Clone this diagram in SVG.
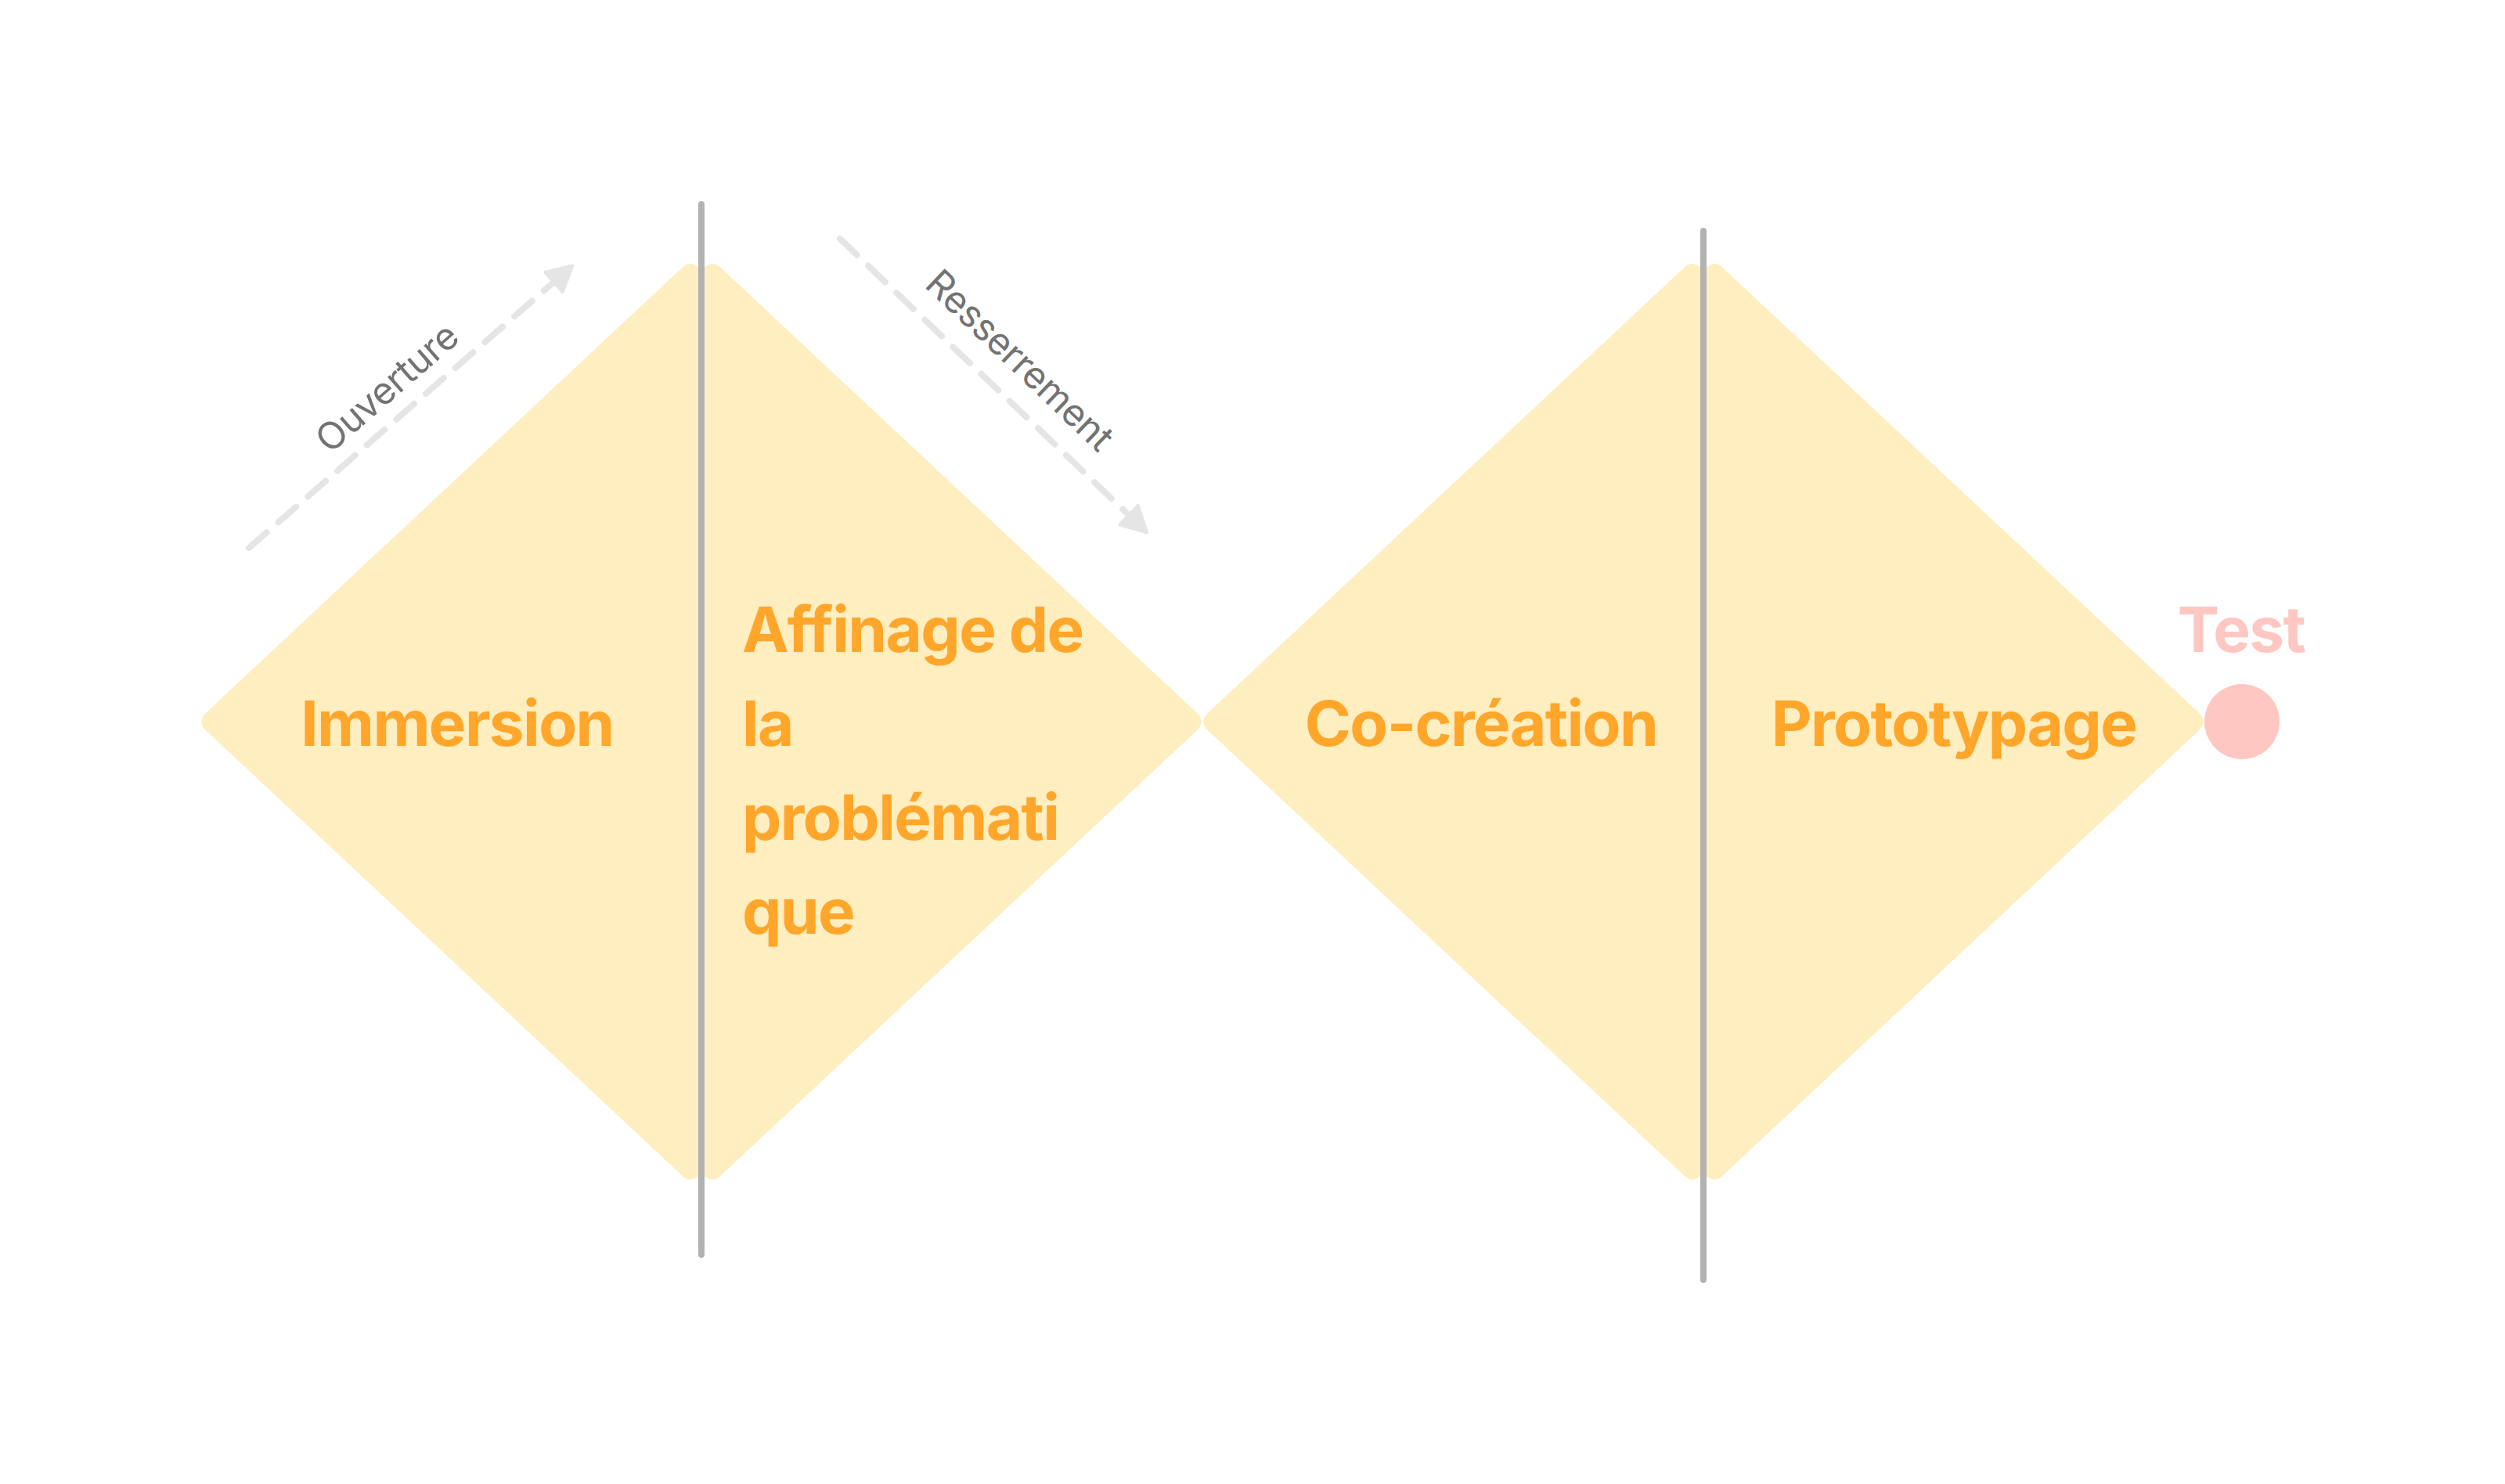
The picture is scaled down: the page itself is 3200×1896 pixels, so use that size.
<svg xmlns="http://www.w3.org/2000/svg" width="3200" height="1896" viewBox="0 0 3200 1896">
  <style>
    .half { fill: #FEEEC0; }
    .divider { stroke: #B2B2B2; stroke-width: 8; stroke-linecap: round; fill: none; }
    .label { font-family: Inter, "Liberation Sans", sans-serif; font-weight: 700; font-size: 80px; letter-spacing: -1.6px; fill: #FFA62B; }
    .test { font-family: Inter, "Liberation Sans", sans-serif; font-weight: 700; font-size: 80px; letter-spacing: -1.6px; fill: #FFC7C2; }
    .flow { stroke: #E5E5E5; stroke-width: 8; stroke-linecap: round; stroke-dasharray: 30 20; fill: none; }
    .flowlabel { font-family: Inter, "Liberation Sans", sans-serif; font-weight: 400; font-size: 48px; letter-spacing: -0.5px; fill: #737373; }
  </style>
  <defs>
    <path id="halfL" d="M0,-570.75 A14,14 0 0 0 -23.56,-580.98 L-634.05,-10.24 A14,14 0 0 0 -634.05,10.24 L-23.56,580.98 A14,14 0 0 0 0,570.75 Z"/>
    <path id="halfR" d="M0,-570.75 A14,14 0 0 1 23.56,-580.98 L634.05,-10.24 A14,14 0 0 1 634.05,10.24 L23.56,580.98 A14,14 0 0 1 0,570.75 Z"/>
    <marker id="ah" markerUnits="userSpaceOnUse" markerWidth="50" markerHeight="50" refX="2" refY="25" orient="auto" overflow="visible">
      <path d="M2,8 L34,25 L2,42 Z" fill="#E5E5E5" stroke="#E5E5E5" stroke-width="4" stroke-linejoin="round"/>
    </marker>
  </defs>
  <rect width="3200" height="1896" fill="#FFFFFF"/>

  <g id="diamond1">
    <use href="#halfL" class="half" transform="translate(896,922)"/>
    <use href="#halfR" class="half" transform="translate(896,922)"/>
  </g>
  <g id="diamond2">
    <use href="#halfL" class="half" transform="translate(2176,922)"/>
    <use href="#halfR" class="half" transform="translate(2176,922)"/>
  </g>

  <g id="dividers">
    <line class="divider" x1="896" y1="261" x2="896" y2="1603"/>
    <line class="divider" x1="2176" y1="295" x2="2176" y2="1635"/>
  </g>

  <g id="node-immersion">
    <text class="label" x="584" y="953" text-anchor="middle">Immersion</text>
  </g>
  <g id="node-affinage">
    <text class="label" x="948" y="833">Affinage de</text>
    <text class="label" x="948" y="953">la</text>
    <text class="label" x="948" y="1073">problémati</text>
    <text class="label" x="948" y="1193">que</text>
  </g>
  <g id="node-cocreation">
    <text class="label" x="1892" y="953" text-anchor="middle">Co-création</text>
  </g>
  <g id="node-prototypage">
    <text class="label" x="2496" y="953" text-anchor="middle">Prototypage</text>
  </g>
  <g id="node-test">
    <text class="test" x="2863" y="833" text-anchor="middle">Test</text>
    <circle cx="2864" cy="922" r="48" fill="#FFC7C2"/>
  </g>

  <g id="connectors">
    <line class="flow" x1="318" y1="700" x2="707.4" y2="360.4" marker-end="url(#ah)"/>
    <line class="flow" x1="1073" y1="305" x2="1442.1" y2="658.2" marker-end="url(#ah)"/>
    <text class="flowlabel" transform="translate(494,495) rotate(-41.1)" x="0" y="17" text-anchor="middle">Ouverture</text>
    <text class="flowlabel" transform="translate(1303,460) rotate(43.7)" x="0" y="17" text-anchor="middle">Resserrement</text>
  </g>
</svg>
